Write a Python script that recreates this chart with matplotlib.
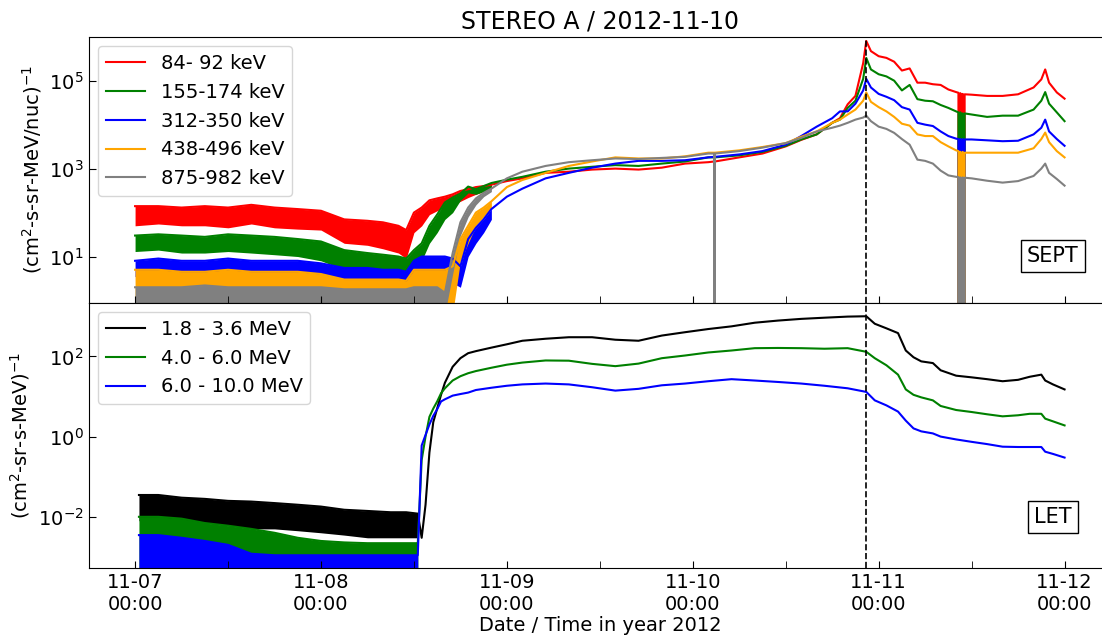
import matplotlib
matplotlib.use('Agg')
import matplotlib.pyplot as plt
import matplotlib.dates as mdates
import pandas as pd
from matplotlib.ticker import FixedLocator, LogFormatterSciNotation, NullLocator

start = pd.Timestamp('2012-11-07 00:00')
onset_hour = 94.4

# SEPT, hours since 11-07 00:00 (first 25 points are the noisy part)
t_sept = [0, 3, 6, 9, 12, 15, 18, 21, 24, 27, 30, 32, 34, 35, 36, 37, 38, 39, 40, 41, 42, 43, 44, 45, 46,
          48, 50, 53, 56, 59, 62, 65, 68, 71, 74,
          74.75, 74.8, 74.85, 78, 81, 84, 86, 88, 90, 91,
          92, 93, 94, 94.4, 95, 96, 97, 98, 99, 100,
          101, 102, 103, 104, 105, 106, 106.3, 106.4, 106.55, 106.7,
          106.85, 107.0, 107.1, 108, 110, 112, 114, 116, 117, 117.5,
          118, 119, 120]

sept_labels = ['84- 92 keV', '155-174 keV', '312-350 keV', '438-496 keV', '875-982 keV']
sept_colors = ['red', 'green', 'blue', 'orange', 'gray']

sept_84 = [140, 140, 130, 140, 130, 150, 130, 120, 110, 70, 65, 60, 50, 40, 100, 130, 190, 210, 230, 260, 310, 340, 380, 400, 430,
           520, 600, 800, 850, 950, 1000, 950, 1050, 1300, 1400,
           1450, 1450, 1450, 1800, 2200, 3200, 4500, 6000, 1.1e4, 1.4e4,
           2.9e4, 4.5e4, 2.5e5, 8e5, 4.7e5, 3.6e5, 3.3e5, 2.7e5, 1.7e5, 1.9e5,
           9e4, 9e4, 8.3e4, 8e4, 6.3e4, 5.5e4, 5.3e4, 0, 5.2e4, 0,
           5e4, 0, 4.9e4, 4.8e4, 4.5e4, 4.5e4, 4.9e4, 7e4, 1.07e5, 1.8e5,
           9e4, 5.4e4, 3.9e4]
sept_84_lo = [50, 55, 50, 50, 45, 55, 45, 42, 40, 20, 18, 15, 12, 9, 35, 50, 90, 110, 130, 150, 180, 220, 260, 300, 340]

sept_155 = [30, 32, 30, 28, 32, 30, 28, 25, 22, 14, 12, 11, 10, 9, 14, 20, 50, 90, 170, 220, 270, 390, 340, 400, 470,
            560, 650, 850, 1000, 1100, 1200, 1150, 1300, 1450, 1800,
            1800, 1800, 1800, 2000, 2400, 3300, 4600, 6000, 1.1e4, 1.3e4,
            2.4e4, 3.5e4, 1.1e5, 3.3e5, 1.8e5, 1.4e5, 1.25e5, 1.0e5, 6e4, 8e4,
            3.8e4, 3.5e4, 3.4e4, 2.8e4, 2.4e4, 2.0e4, 1.9e4, 0, 1.9e4, 0,
            1.8e4, 0, 1.8e4, 1.7e4, 1.5e4, 1.6e4, 1.6e4, 2.2e4, 3.5e4, 5.5e4,
            3e4, 1.9e4, 1.2e4]
sept_155_lo = [13, 14, 12, 12, 13, 12, 11, 10, 8, 5, 5, 4.5, 4, 3.5, 5, 8, 20, 35, 70, 100, 190, 280, 260, 300, 380]

sept_312 = [8, 9, 8, 8, 9, 8, 8, 8, 7, 5.5, 5.5, 5, 5, 4.5, 8, 10, 10, 10, 10, 9, 6, 25, 45, 70, 120,
            230, 350, 600, 800, 1050, 1300, 1500, 1500, 1550, 1800,
            1850, 1850, 1850, 2100, 2500, 3500, 5500, 9000, 1.4e4, 2e4,
            2e4, 3e4, 6e4, 1.1e5, 7e4, 5e4, 4.3e4, 3.6e4, 2.5e4, 2.2e4,
            1.1e4, 1.0e4, 9.3e3, 7e3, 5.5e3, 4.8e3, 4.7e3, 0, 4.7e3, 0,
            4.7e3, 0, 4.6e3, 4.6e3, 4.4e3, 4.2e3, 4.3e3, 6e3, 8.5e3, 1.3e4,
            7e3, 4.7e3, 3.3e3]
sept_312_lo = [3.5, 3.5, 3.5, 3, 3.5, 3, 3.2, 3, 3, 2.2, 2, 2, 1.8, 1.5, 3, 3, 3, 3.5, 3, 2.5, 2, 10, 20, 35, 70]

sept_438 = [5, 5, 4.5, 4.5, 5, 4.5, 4.5, 4.5, 4, 3, 3, 3, 3, 2.8, 5, 5, 5, 5, 5, 6, 25, 50, 100, 130, 180,
            380, 550, 800, 1150, 1450, 1800, 1700, 1700, 1900, 2300,
            2300, 2300, 2300, 2600, 3100, 3800, 5300, 7000, 1.1e4, 1.3e4,
            1.7e4, 2.2e4, 3.5e4, 5.4e4, 3.3e4, 2.5e4, 2.0e4, 1.5e4, 1.05e4, 9.5e3,
            6e3, 5.5e3, 5.5e3, 4e3, 3.2e3, 2.6e3, 2.5e3, 0, 2.4e3, 0,
            2.4e3, 0, 2.3e3, 2.3e3, 2.3e3, 2.3e3, 2.3e3, 2.9e3, 4.7e3, 6.6e3,
            4e3, 2.5e3, 1.8e3]
sept_438_lo = [0.5, 0.5, 0.5, 0.5, 0.5, 0.5, 0.5, 0.5, 0.5, 0.5, 0.5, 0.5, 0.5, 0.5, 0.5, 0.5, 0.5, 0.5, 0.5, 0.5, 8, 20, 50, 80, 130]

sept_875 = [2, 2, 2, 2.2, 2, 2, 2, 2, 2, 1.8, 1.8, 1.8, 1.8, 1.8, 2, 2, 2, 2, 1.5, 12, 60, 130, 210, 280, 350,
            600, 850, 1150, 1400, 1550, 1700, 1650, 1750, 1850, 2200,
            2200, 0, 2200, 2500, 3000, 3800, 5000, 7000, 8500, 9500,
            1.1e4, 1.3e4, 1.45e4, 1.6e4, 1.2e4, 9e3, 8e3, 6.5e3, 4.7e3, 3.5e3,
            1.6e3, 1.5e3, 1.3e3, 900, 700, 650, 640, 0, 630, 0,
            630, 0, 620, 600, 530, 480, 520, 680, 1000, 1300,
            800, 580, 410]
sept_875_lo = [0.5, 0.5, 0.5, 0.5, 0.5, 0.5, 0.5, 0.5, 0.5, 0.5, 0.5, 0.5, 0.5, 0.5, 0.5, 0.5, 0.5, 0.5, 0.5, 4, 30, 80, 150, 230, 300]

# LET, hours since 11-07 00:00 (first 14 points are the noisy part)
t_let = [0.5, 3, 6, 9, 12, 15, 18, 21, 24, 27, 30, 33, 35, 36.5,
         37, 37.5, 38, 38.5, 39, 39.5, 40, 41, 42, 43, 44, 46, 48, 50, 53, 56, 59, 62, 65, 68,
         71, 74, 77, 80, 83, 86, 89, 92, 94.4, 95.5, 97, 98.5, 99.5, 100.5, 101.5, 103, 104, 106, 108, 110,
         112, 114, 115.5, 117, 117.5, 118.5, 120]

let_labels = ['1.8 - 3.6 MeV', '4.0 - 6.0 MeV', '6.0 - 10.0 MeV']
let_colors = ['black', 'green', 'blue']

let_18 = [3.5e-2, 3.5e-2, 3e-2, 2.8e-2, 2.5e-2, 2.4e-2, 2.2e-2, 2e-2, 1.8e-2, 1.5e-2, 1.4e-2, 1.3e-2, 1.3e-2, 1.2e-2,
          3e-3, 2e-2, 0.4, 2.3, 5, 11, 22, 55, 90, 120, 135, 165, 200, 245, 275, 300, 300, 260, 245, 330,
          400, 480, 560, 690, 780, 860, 920, 980, 1000, 650, 500, 380, 140, 95, 75, 68, 45, 33, 30, 27,
          24, 26, 31, 35, 25, 20, 15]
let_18_lo = [8e-3, 8e-3, 7e-3, 7e-3, 6e-3, 5e-3, 5e-3, 4.5e-3, 4e-3, 3.5e-3, 3e-3, 3e-3, 3e-3, 3e-3]

let_40 = [1e-2, 1e-2, 9e-3, 7e-3, 6e-3, 5e-3, 4e-3, 3e-3, 2.5e-3, 2.3e-3, 2.2e-3, 2.2e-3, 2.2e-3, 2.2e-3,
          0.26, 1.0, 3.1, 5, 7.5, 12, 16, 25, 32, 38, 43, 52, 62, 70, 79, 78, 65, 57, 66, 90,
          105, 125, 140, 160, 162, 160, 155, 160, 130, 90, 60, 35, 15, 11, 9.5, 8, 5.8, 4.6, 4.1, 3.6,
          3.2, 3.4, 3.7, 3.7, 2.8, 2.4, 1.9]
let_40_lo = [2e-4] * 14

let_60 = [3.5e-3, 3.5e-3, 3e-3, 2.5e-3, 2e-3, 1.2e-3, 1.1e-3, 1.1e-3, 1.1e-3, 1.1e-3, 1.1e-3, 1.1e-3, 1.1e-3, 1.1e-3,
          0.6, 1.1, 2.0, 3.3, 4.8, 7.5, 8.5, 10.5, 11.5, 12.5, 14.5, 16.5, 18.5, 20, 21, 20, 17, 14, 15.5, 19,
          21, 24, 27, 25, 23, 21, 18.5, 16, 13, 8, 6, 4.2, 2.5, 1.6, 1.35, 1.2, 1.0, 0.85, 0.74, 0.65,
          0.56, 0.55, 0.55, 0.55, 0.42, 0.37, 0.30]
let_60_lo = [2e-4] * 14


def to_time(hours):
    return (start + pd.to_timedelta(hours, unit='h')).to_pydatetime()


plt.rcParams['font.size'] = 14

fig = plt.figure(figsize=(11.02, 6.35), dpi=100)
ax1 = fig.add_axes([0.0804, 0.5236, 0.9278, 0.4186])
ax2 = fig.add_axes([0.0804, 0.105, 0.9278, 0.4186], sharex=ax1)

x_sept = to_time(t_sept)
sept = [(sept_84, sept_84_lo), (sept_155, sept_155_lo), (sept_312, sept_312_lo),
        (sept_438, sept_438_lo), (sept_875, sept_875_lo)]
for (hi, lo), c, lab in zip(sept, sept_colors, sept_labels):
    n = len(lo)
    ax1.fill_between(x_sept[:n], lo, hi[:n], color=c, lw=0)
    ax1.plot(x_sept, hi, color=c, lw=1.5, label=lab)

x_let = to_time(t_let)
let = [(let_18, let_18_lo), (let_40, let_40_lo), (let_60, let_60_lo)]
for (hi, lo), c, lab in zip(let, let_colors, let_labels):
    n = len(lo)
    ax2.fill_between(x_let[:n], lo, hi[:n], color=c, lw=0)
    ax2.plot(x_let, hi, color=c, lw=1.5, label=lab)

onset = to_time([onset_hour])[0]
for ax in (ax1, ax2):
    ax.axvline(onset, color='black', ls='--', lw=1.2)
    ax.set_yscale('log')
    ax.yaxis.set_major_formatter(LogFormatterSciNotation())
    ax.yaxis.set_minor_locator(NullLocator())
    ax.tick_params(which='both', direction='in', length=5, top=False, right=False)

ax1.set_ylim(0.9, 1e6)
ax1.yaxis.set_major_locator(FixedLocator([1e1, 1e3, 1e5]))
ax2.set_ylim(5.2e-4, 2.2e3)
ax2.yaxis.set_major_locator(FixedLocator([1e-2, 1e0, 1e2]))

ax2.set_xlim(to_time([-6])[0], to_time([126])[0])
ax2.xaxis.set_major_locator(mdates.DayLocator())
ax2.xaxis.set_minor_locator(mdates.HourLocator(byhour=[12]))
ax2.xaxis.set_major_formatter(mdates.DateFormatter('%m-%d\n%H:%M'))
ax1.tick_params(labelbottom=False)

ax1.set_ylabel(r'(cm$^2$-s-sr-MeV/nuc)$^{-1}$')
ax2.set_ylabel(r'(cm$^2$-sr-s-MeV)$^{-1}$')
ax2.set_xlabel('Date / Time in year 2012', labelpad=1)
ax1.set_title('STEREO A / 2012-11-10', fontsize=17)

ax1.legend(loc='upper left')
ax2.legend(loc='upper left')

box = dict(facecolor='white', edgecolor='black', boxstyle='square,pad=0.3')
ax1.text(0.943, 0.175, 'SEPT', transform=ax1.transAxes, ha='center', va='center', fontsize=15, bbox=box)
ax2.text(0.943, 0.193, 'LET', transform=ax2.transAxes, ha='center', va='center', fontsize=15, bbox=box)

fig.savefig('out.png', dpi=100)
